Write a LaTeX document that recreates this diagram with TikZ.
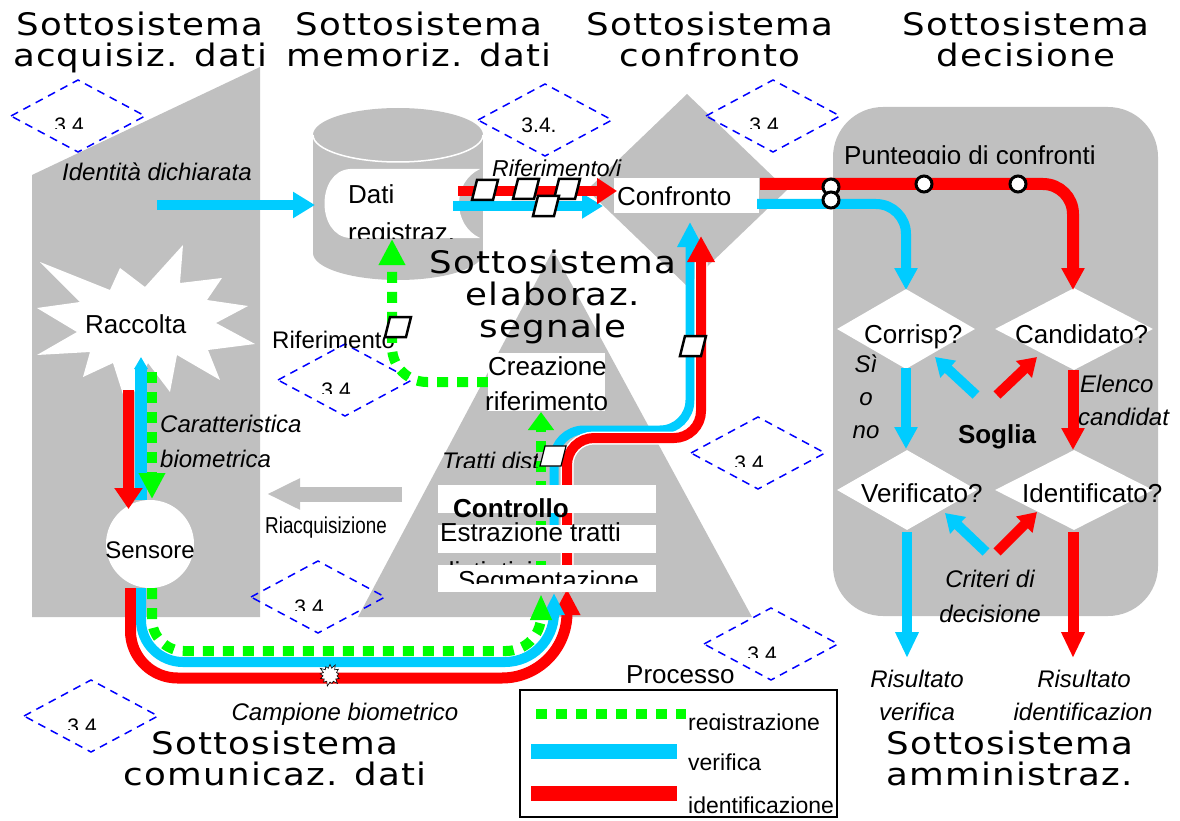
\documentclass[tikz,border=0pt]{standalone}
\usepackage{fontspec}
\setmainfont{Liberation Sans}
\newfontfamily\headfont[FakeStretch=1.15,LetterSpace=4]{DejaVu Sans}
\newfontfamily\narrowfont[FakeStretch=0.82]{Liberation Sans}
\usetikzlibrary{arrows.meta,shapes.geometric,shapes.symbols}
\definecolor{bgray}{HTML}{C0C0C0}
\definecolor{vcyan}{HTML}{00CCFF}
\definecolor{idred}{HTML}{FF0000}
\definecolor{rgreen}{HTML}{00FF00}
\definecolor{dblue}{HTML}{0000FF}
\newcommand\fsz[1]{\fontsize{#1}{#1}\selectfont}
\tikzset{
  lbl/.style={inner sep=0pt,anchor=base west,font=\fsz{26}},
  ilbl/.style={inner sep=0pt,anchor=base west,font=\fsz{24}\itshape},
  hdr/.style={inner sep=0pt,anchor=north,align=center,font=\headfont\fontsize{31}{31}\selectfont},
  idl/.style={draw=idred,line width=11pt},
  verl/.style={draw=vcyan,line width=10pt},
  regl/.style={draw=rgreen,line width=10pt,dash pattern=on 11pt off 9pt},
  bighead/.style={-{Triangle[length=22pt,width=25pt]}},
  smallhead/.style={-{Triangle[length=18pt,width=22pt]}},
  pics/dia/.style 2 args={code={
    \draw[dblue,line width=1.5pt,dash pattern=on 8pt off 6pt] (-67,0)--(0,-36)--(67,0)--(0,36)--cycle;
    \begin{scope}
    \clip (-50,-30) rectangle (50,#2);
    \node[inner sep=0pt,anchor=base,font=\fsz{21}] at (-6,#1) {3.4.};
    \end{scope}}},
  pics/para/.style={code={
    \filldraw[fill=white,draw=black,line width=#1] (-13,10)--(-8,-10)--(13,-10)--(8,10)--cycle;}},
  pics/ring/.style={code={
    \filldraw[fill=white,draw=black,line width=3pt] (0,0) circle (8);}}
}
\begin{document}
\begin{tikzpicture}[x=1pt,y=-1pt]
\useasboundingbox (0,0) rectangle (1180,821);
\fill[bgray] (32,175) -- (260,67) -- (260,617) -- (32,617) -- cycle;
\fill[bgray] (313,135) rectangle (483,253);
\fill[bgray] (398,135) ellipse[x radius=85,y radius=27];
\fill[bgray] (398,253) ellipse[x radius=85,y radius=27];
\draw[white,line width=1.5pt] (313,135) arc[start angle=180,end angle=0,x radius=85,y radius=27];
\fill[bgray] (553,250) -- (752,617) -- (358,617) -- cycle;
\fill[bgray] (687,94) -- (787,190) -- (687,286) -- (587,190) -- cycle;
\fill[bgray,rounded corners=50pt] (833,107) rectangle (1158,616);
\fill[white] (350,169) -- (480,169) .. controls (452,182) and (452,225) .. (480,238) -- (350,238) .. controls (316,236) and (316,171) .. (350,169) -- cycle;
\fill[white] (40,262) -- (110,290) -- (120,268) -- (145,287) -- (183,245) -- (180,283) -- (222,278) -- (207,300) -- (248,306) -- (216,323) -- (255,344) -- (208,350) -- (220,380) -- (177,355) -- (170,392) -- (148,363) -- (127,407) -- (113,363) -- (83,377) -- (90,352) -- (37,355) -- (77,332) -- (37,308) -- (80,302) -- cycle;
\node[circle,fill=white,inner sep=0pt,minimum size=88pt] (sensore) at (150,544) {};
\node[fill=white,inner sep=0pt,minimum width=145pt,minimum height=35pt] (confbox) at (686.5,195.5) {};
\node[diamond,fill=white,inner sep=0pt,minimum width=138pt,minimum height=80pt] (corr) at (906,329) {};
\node[diamond,fill=white,inner sep=0pt,minimum width=158pt,minimum height=82pt] (cand) at (1074,329) {};
\node[diamond,fill=white,inner sep=0pt,minimum width=140pt,minimum height=80pt] (verif) at (907,490) {};
\node[diamond,fill=white,inner sep=0pt,minimum width=158pt,minimum height=80pt] (ident) at (1074,490) {};

\pic (d1) at (78,116) {dia={17}{13}};
\pic (d2) at (545,120) {dia={13}{30}};
\pic (d3) at (773,116) {dia={17}{13}};
\pic (d4) at (345,380) {dia={17}{13}};
\pic (d5) at (758,453) {dia={17}{13}};
\pic (d6) at (318,597) {dia={17}{13}};
\pic (d7) at (771,644) {dia={17}{13}};
\pic (d8) at (91,716) {dia={17}{13}};

\node[hdr] (hacq) at (140,11.5) {Sottosistema\\acquisiz. dati};
\node[hdr] (hmem) at (419,11.5) {Sottosistema\\memoriz. dati};
\node[hdr] (hconf) at (710,11.5) {Sottosistema\\confronto};
\node[hdr] (hdec) at (1026,11.5) {Sottosistema\\decisione};
\node[hdr,font=\headfont\fontsize{31}{32}\selectfont] (helab) at (553,249.5) {Sottosistema\\elaboraz.\\segnale};
\node[hdr] (hcom) at (275,730.5) {Sottosistema\\comunicaz. dati};
\node[hdr] (hamm) at (1010,730.5) {Sottosistema\\amministraz.};

\node[ilbl] (identita) at (62,181) {Identità dichiarata};
\node[ilbl,font=\fsz{23}\itshape] (rifi) at (492,177) {Riferimento/i};
\node[lbl,font=\fsz{24}] (rif) at (272,348) {Riferimento};
\node[ilbl] (car) at (160,432) {Caratteristica};
\node[ilbl] (biom) at (160,467) {biometrica};
\node[lbl,font=\narrowfont\fsz{23}] (riacq) at (265,533) {Riacquisizione};
\node[lbl] (racc) at (85,333) {Raccolta};
\node[lbl,font=\fsz{24},anchor=base] (senstxt) at (150,558) {Sensore};
\node[lbl] (dati) at (348,204) {Dati};
\begin{scope}
\clip (340,215) rectangle (480,238);
\node[lbl] (regz) at (348,241) {registraz.};
\end{scope}
\node[lbl] (conf) at (617,205) {Confronto};

\draw[verl,bighead] (157,205) -- (315,205);
\draw[verl,-{Triangle[length=21pt,width=24pt]}] (453,206) -- (603,206);
\draw[idl,line width=10pt,-{Triangle[length=20pt,width=25pt]}] (458,191) -- (617,191);
\draw[verl,line width=12pt,-{Triangle[length=12pt,width=13pt]}] (141,500) -- (141,357);
\draw[idl,-{Triangle[length=21pt,width=27pt]}] (128.5,390) -- (128.5,509);
\draw[regl,-{Triangle[length=26pt,width=25pt]}] (152,372) -- (152,499);
\draw[bgray,line width=15pt,-{Triangle[length=33pt,width=29pt]}] (402,494) -- (267,494);
\draw[regl,rounded corners=35pt,-{Triangle[length=26pt,width=25pt]}] (488,382) -- (392,382) -- (392,239);

\draw[idl,-{Triangle[length=26pt,width=25pt]}] (130.5,588) [rounded corners=47pt] -- (130.5,678) -- (330,678) [rounded corners=65pt] -- (567,678) -- (567,589);
\draw[verl,-{Triangle[length=22pt,width=20pt]}] (141,588) [rounded corners=42pt] -- (141,662) -- (330,662) [rounded corners=49pt] -- (554,662) -- (554,593);
\draw[regl,-{Triangle[length=26pt,width=20pt]}] (152,588) [rounded corners=32pt] -- (152,651) -- (330,651) [rounded corners=35pt] -- (541,651) -- (541,594);

\draw[verl,line width=9pt,rounded corners=30pt,-{Triangle[length=25pt,width=24pt]}] (554,530) -- (554,430) -- (690,430) -- (690,222);
\draw[white,line width=13pt,rounded corners=27pt] (567,592) -- (567,438) -- (701,438) -- (701,262);
\draw[idl,line width=10pt,rounded corners=27pt,-{Triangle[length=26pt,width=26pt]}] (567,592) -- (567,438) -- (701,438) -- (701,236);
\draw[regl,-{Triangle[length=18pt,width=25pt]}] (541,592) -- (541,412);

\node[fill=white,inner sep=0pt,minimum width=117pt,minimum height=58pt] (creabox) at (546.5,382) {};
\node[fill=white,inner sep=0pt,minimum width=218pt,minimum height=28pt] (contbox) at (547,499) {};
\node[fill=white,inner sep=0pt,minimum width=218pt,minimum height=28pt] (estrbox) at (547,539) {};
\node[lbl] (crea) at (488,375) {Creazione};
\node[lbl] (crearif) at (485,410) {riferimento};
\begin{scope}
\clip (430,445) rectangle (537,467);
\node[ilbl] (tratti) at (442,469) {Tratti distintivi};
\end{scope}
\node[lbl,font=\fsz{26}\bfseries] (cont) at (453,517) {Controllo};
\node[lbl] (estr) at (440,541) {Estrazione tratti};
\node[lbl] (estr2) at (440,580) {distintivi};
\node[fill=white,inner sep=0pt,minimum width=218pt,minimum height=27pt] (segbox) at (547,578.5) {};
\begin{scope}
\clip (440,566) rectangle (660,583);
\node[lbl] (seg) at (458,589) {Segmentazione};
\end{scope}

\draw[idl,line width=12pt,rounded corners=30pt,-{Triangle[length=22pt,width=22pt]}] (760,184) -- (1073,184) -- (1073,290);
\draw[verl,rounded corners=30pt,-{Triangle[length=22pt,width=22pt]}] (757,204) -- (906,204) -- (906,290);
\draw[verl,-{Triangle[length=22pt,width=22pt]}] (906,368) -- (906,449);
\draw[idl,-{Triangle[length=22pt,width=22pt]}] (1073,370) -- (1073,450);
\draw[verl,-{Triangle[length=26pt,width=22pt]}] (907,532) -- (907,658);
\draw[idl,-{Triangle[length=26pt,width=22pt]}] (1073,532) -- (1073,658);
\draw[verl,smallhead] (976,395) -- (935,357);
\draw[idl,line width=10pt,smallhead] (997,395) -- (1037,357);
\draw[verl,smallhead] (986,552) -- (945,513);
\draw[idl,line width=10pt,smallhead] (997,552) -- (1037,512);

\begin{scope}
\clip (835,135) rectangle (1110,164);
\node[lbl] (punt) at (844,164.5) {Punteggio di confronti};
\end{scope}
\node[lbl] (corrtxt) at (864,343) {Corrisp?};
\node[lbl] (candtxt) at (1015,343) {Candidato?};
\node[lbl] (veriftxt) at (861,502) {Verificato?};
\node[lbl] (identtxt) at (1022,502) {Identificato?};
\node[ilbl,anchor=base] (si) at (866,372) {Sì};
\node[ilbl,anchor=base] (oo) at (866,405) {o};
\node[ilbl,anchor=base] (no) at (866,438) {no};
\node[lbl,font=\fsz{26}\bfseries,anchor=base] (soglia) at (997,443) {Soglia};
\node[ilbl] (elenco) at (1080,392) {Elenco};
\node[ilbl] (candidat) at (1078,425) {candidat};
\node[ilbl,anchor=base] (crit) at (990,587) {Criteri di};
\node[ilbl,anchor=base] (decis) at (990,622) {decisione};
\node[ilbl,anchor=base] (risv) at (917,687) {Risultato};
\node[ilbl,anchor=base] (risv2) at (917,720) {verifica};
\node[ilbl,anchor=base] (risi) at (1084,687) {Risultato};
\node[ilbl,anchor=base] (risi2) at (1083,720) {identificazion};
\node[ilbl,anchor=base] (campione) at (345,720) {Campione biometrico};

\pic at (485,190) {para=2.5pt};
\pic at (526,189) {para=2.5pt};
\pic at (567,189) {para=2.5pt};
\pic at (546,206) {para=2.5pt};
\pic at (398,327) {para=2.5pt};
\pic at (693,346) {para=2.5pt};
\pic at (553,456) {para=1.2pt};
\pic at (831,187) {ring};
\pic at (831,200) {ring};
\pic at (924,184) {ring};
\pic at (1018,184) {ring};
\node[starburst,draw=black,fill=white,line width=0.6pt,inner sep=0pt,minimum size=24pt,starburst points=13,starburst point height=5pt] (spark) at (330,675) {};

\node[lbl] (processo) at (626,683) {Processo};
\draw[line width=2pt] (520,690) rectangle (837,817);
\draw[regl] (536,714) -- (686,714);
\draw[verl,line width=15pt] (531,751) -- (677,751);
\draw[idl,line width=15pt] (531,793) -- (677,793);
\begin{scope}
\clip (680,700) rectangle (840,729);
\node[lbl,font=\fsz{23}] (lreg) at (688,730) {registrazione};
\end{scope}
\node[lbl,font=\fsz{23}] (lver) at (688,770) {verifica};
\node[lbl,font=\fsz{23}] (lid) at (688,813) {identificazione};
\end{tikzpicture}
\end{document}
